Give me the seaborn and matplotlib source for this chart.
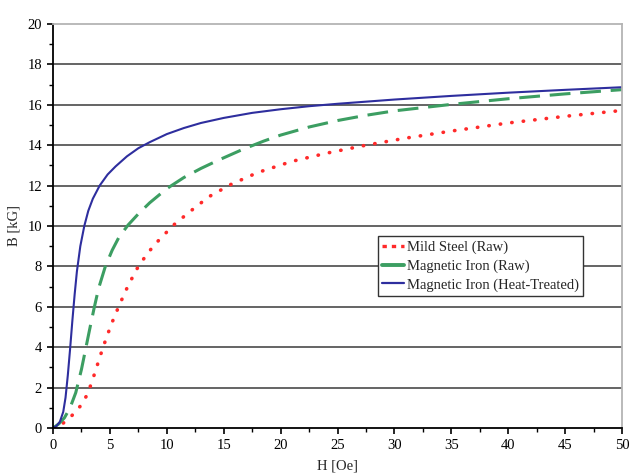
import numpy as np
import pandas as pd
import matplotlib
matplotlib.use("Agg")
import matplotlib.pyplot as plt
from matplotlib.ticker import MultipleLocator
from matplotlib.lines import Line2D
import seaborn as sns

# ---- data ----
series_names = ["Mild Steel (Raw)", "Magnetic Iron (Raw)", "Magnetic Iron (Heat-Treated)"]

steel_H = [0, 0.5, 1.0, 1.5, 2.0, 2.5, 3.0, 3.4, 3.8, 4.4, 5.1, 5.8, 6.6, 7.4, 8.3, 9.3,
           10.6, 12, 13.7, 15.6, 18, 21, 24, 27.5, 31, 35, 40, 45, 50]
steel_B = [0, 0.1, 0.28, 0.52, 0.82, 1.15, 1.65, 2.25, 2.95, 4.0, 5.1, 6.05, 7.05, 7.9,
           8.65, 9.3, 10.05, 10.7, 11.45, 12.05, 12.65, 13.2, 13.6, 14.0, 14.35, 14.7,
           15.1, 15.43, 15.72]

iron_H = [0, 0.5, 1.0, 1.5, 2.0, 2.5, 2.9, 3.3, 3.6, 4.0, 4.6, 5.2, 5.8, 6.6, 7.5, 8.5,
          10, 11.5, 13, 14.5, 16.7, 18.5, 20, 22.5, 25, 27.5, 30, 35, 40, 45, 50]
iron_B = [0, 0.2, 0.5, 1.0, 1.75, 2.9, 4.0, 5.1, 5.9, 6.9, 8.0, 8.8, 9.45, 10.05, 10.6,
          11.15, 11.85, 12.4, 12.85, 13.25, 13.8, 14.2, 14.5, 14.9, 15.22, 15.48, 15.7,
          16.02, 16.3, 16.54, 16.75]

heat_H = [0, 0.3, 0.6, 0.9, 1.1, 1.3, 1.5, 1.7, 1.9, 2.1, 2.4, 2.75, 3.1, 3.5, 4.1, 4.8,
          5.5, 6.5, 7.5, 8.5, 10, 11.5, 13, 15, 17.5, 20, 22.5, 25, 30, 35, 40, 45, 50]
heat_B = [0, 0.1, 0.3, 0.8, 1.5, 2.6, 3.9, 5.3, 6.6, 7.75, 9.0, 10.0, 10.75, 11.35, 12.0,
          12.55, 12.95, 13.45, 13.85, 14.15, 14.55, 14.85, 15.1, 15.35, 15.6, 15.78,
          15.93, 16.05, 16.26, 16.44, 16.6, 16.74, 16.87]

x_ticks = [0, 5, 10, 15, 20, 25, 30, 35, 40, 45, 50]
y_ticks = [0, 2, 4, 6, 8, 10, 12, 14, 16, 18, 20]

frames = []
for name, hs, bs in zip(series_names, [steel_H, iron_H, heat_H], [steel_B, iron_B, heat_B]):
    frames.append(pd.DataFrame({"H": hs, "B": bs, "Material": name}))
df = pd.concat(frames, ignore_index=True)

# ---- styling ----
sns.set_theme(style="ticks")
plt.rcParams["font.family"] = ["Liberation Serif", "DejaVu Serif"]

colors = {series_names[0]: "#ff2a2a", series_names[1]: "#3c9e62", series_names[2]: "#2e2e9e"}
dashes = {series_names[0]: (0.1, 3.1), series_names[1]: (6.8, 3.2), series_names[2]: ""}
widths = {series_names[0]: 2.6, series_names[1]: 2.2, series_names[2]: 1.5}

fig = plt.figure(figsize=(6.32, 4.75), dpi=100)
ax = fig.add_axes([53 / 632, 1 - 428 / 475, (622 - 53) / 632, (428 - 24) / 475])

sns.lineplot(data=df, x="H", y="B", hue="Material", style="Material",
             hue_order=series_names, style_order=series_names,
             palette=colors, dashes=dashes, sort=False, estimator=None,
             ax=ax, legend=False)
for line, name in zip(ax.get_lines()[:3], series_names):
    line.set_linewidth(widths[name])
    line.set_solid_joinstyle("round")
    if name == series_names[0]:
        line.set_dash_capstyle("round")

ax.set_xlim(0, 50)
ax.set_ylim(0, 20)
ax.set_xticks(x_ticks)
ax.set_yticks(y_ticks)
ax.xaxis.set_minor_locator(MultipleLocator(2.5))
ax.yaxis.set_minor_locator(MultipleLocator(1))
ax.tick_params(axis="both", which="major", direction="out", length=4, width=1.2,
               colors="black", labelsize=10.5, pad=4)
ax.tick_params(axis="both", which="minor", direction="out", length=3, width=1.0,
               colors="black")

ax.grid(axis="y", which="major", color="#3a3a3a", linewidth=1.1)
ax.grid(axis="x", visible=False)
ax.set_axisbelow(True)
gl = ax.get_ygridlines()
gl[0].set_visible(False)
gl[-1].set_visible(False)

for side in ["left", "bottom"]:
    ax.spines[side].set_color("black")
    ax.spines[side].set_linewidth(1.3)
for side in ["top", "right"]:
    ax.spines[side].set_visible(True)
    ax.spines[side].set_color("#b4b4b4")
    ax.spines[side].set_linewidth(1.3)

ax.set_xlabel("H [Oe]", fontsize=10.5, labelpad=5)
ax.set_ylabel("B [kG]", fontsize=10.5, labelpad=5)

handles = [
    Line2D([], [], color=colors[series_names[0]], linewidth=2.4, dashes=(1.3, 1.5)),
    Line2D([], [], color=colors[series_names[1]], linewidth=2.8, linestyle="-"),
    Line2D([], [], color=colors[series_names[2]], linewidth=1.6, linestyle="-"),
]
leg = ax.legend(handles=handles, labels=series_names,
                loc="lower left", bbox_to_anchor=(0.571, 0.327), fontsize=10.5,
                frameon=True, fancybox=False, framealpha=1, edgecolor="#333333",
                handlelength=1.5, handletextpad=0.2, borderpad=0.3, labelspacing=0.35,
                borderaxespad=0)
leg.get_frame().set_linewidth(1.0)

fig.savefig("out.png", dpi=100, facecolor="white")
